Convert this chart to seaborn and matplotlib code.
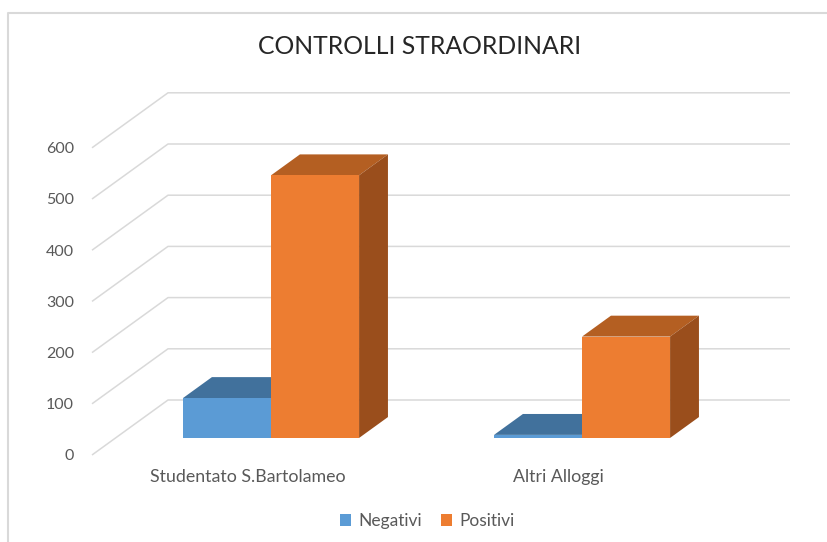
import matplotlib
matplotlib.use("Agg")
import matplotlib.pyplot as plt
from matplotlib.patches import Polygon, Patch
from matplotlib.lines import Line2D
import seaborn as sns
import pandas as pd

# ---- data ----
categories = ["Studentato S.Bartolameo", "Altri Alloggi"]
series = ["Negativi", "Positivi"]
negativi = [78, 6]
positivi = [513, 198]
y_ticks = [0, 100, 200, 300, 400, 500, 600]
title = "CONTROLLI STRAORDINARI"

front_colors = {"Negativi": "#5B9BD5", "Positivi": "#ED7D31"}
top_colors = {"Negativi": "#41719C", "Positivi": "#B45F22"}
side_colors = {"Negativi": "#3A6690", "Positivi": "#9A4E1C"}

df = pd.DataFrame({
    "cat": categories * 2,
    "series": [series[0]] * 2 + [series[1]] * 2,
    "val": negativi + positivi,
})

sns.set_theme(style="white")
plt.rcParams["font.family"] = ["Lato", "DejaVu Sans"]

W, H = 827, 542
fig = plt.figure(figsize=(W / 100, H / 100), dpi=100)
fig.patch.set_facecolor("white")

# axes placement in pixels
L, R, B, T = 92, 790, 455, 92
ax = fig.add_axes([L / W, 1 - B / H, (R - L) / W, (B - T) / H])

px_per_unit_x = 311.0
px_per_val = 0.512
xmin = -0.5
xmax = xmin + (R - L) / px_per_unit_x
ymax = (B - T) / px_per_val
DX = 76 / px_per_unit_x      # depth offset (x units)
DY = 55 / px_per_val         # depth offset (value units)

sns.barplot(data=df, x="cat", y="val", hue="series", order=categories,
            hue_order=series, palette=front_colors, width=0.566,
            saturation=1, dodge=True, errorbar=None, linewidth=0, ax=ax,
            legend=False)

# back-wall / side-wall gridlines
for v in y_ticks:
    ax.plot([xmin, xmin + DX, xmax], [v, v + DY, v + DY],
            color="#D9D9D9", lw=1.1, zorder=0.5, clip_on=False,
            solid_capstyle="butt")

f_front, f_depth = 0.31, 0.38
fdx, fdy = f_front * DX, f_front * DY
ddx, ddy = f_depth * DX, f_depth * DY

for si, (cont, s) in enumerate(zip(ax.containers, series)):
    for bar in cont:
        x0 = bar.get_x() + fdx
        w = bar.get_width()
        h = bar.get_height()
        y0 = fdy
        bar.set_x(x0)
        bar.set_y(y0)
        bar.set_facecolor(front_colors[s])
        bar.set_zorder(3 + 2 * si)
        top = y0 + h
        ax.add_patch(Polygon([(x0, top), (x0 + w, top), (x0 + w + ddx, top + ddy),
                              (x0 + ddx, top + ddy)], closed=True,
                             facecolor=top_colors[s], edgecolor="none",
                             zorder=2 + 2 * si))
        ax.add_patch(Polygon([(x0 + w, y0), (x0 + w, top), (x0 + w + ddx, top + ddy),
                              (x0 + w + ddx, y0 + ddy)], closed=True,
                             facecolor=side_colors[s], edgecolor="none",
                             zorder=2 + 2 * si))

ax.set_xlim(xmin, xmax)
ax.set_ylim(0, ymax)
ax.set_yticks(y_ticks)
ax.set_yticklabels([str(v) for v in y_ticks])
ax.set_xlabel("")
ax.set_ylabel("")
for sp in ax.spines.values():
    sp.set_visible(False)
ax.tick_params(axis="y", length=0, pad=13, labelsize=11.5, labelcolor="#595959")
ax.tick_params(axis="x", length=0, pad=10, labelsize=12.8, labelcolor="#595959")
ax.set_facecolor("none")

fig.text(420 / W, 1 - 47 / H, title, ha="center", va="center",
         fontsize=17.8, color="#262626")

handles = [Patch(facecolor=front_colors[s], edgecolor="none") for s in series]
fig.legend(handles, series, loc="center", bbox_to_anchor=(427 / W, 1 - 521 / H),
           ncol=2, frameon=False, fontsize=12.5, labelcolor="#595959",
           handlelength=0.65, handleheight=0.65, handletextpad=0.4,
           columnspacing=1.1)

# chart border
fig.add_artist(Line2D([8 / W, 8 / W, 1.0], [0.0, 1 - 13 / H, 1 - 13 / H],
                      transform=fig.transFigure, color="#D9D9D9", lw=1.5))

fig.savefig("out.png", dpi=100, facecolor="white")
